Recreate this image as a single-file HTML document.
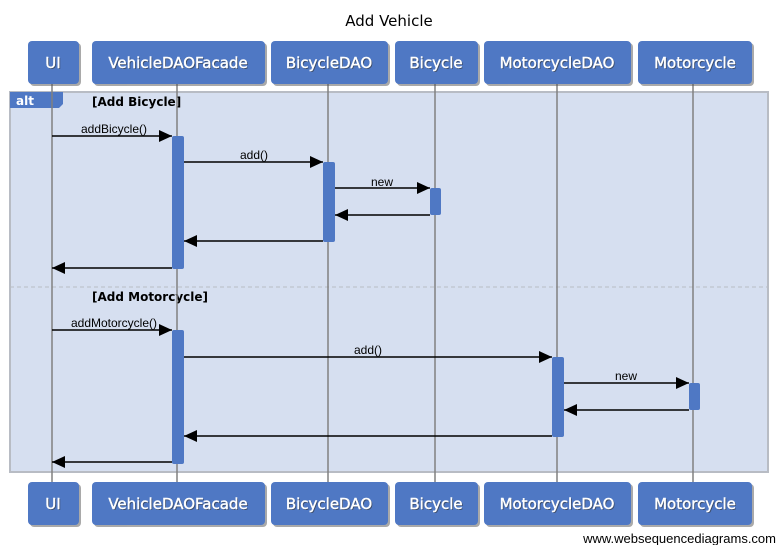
<!DOCTYPE html>
<html><head><meta charset="utf-8"><style>
html,body{margin:0;padding:0;background:#fff;}
svg{display:block;font-family:"DejaVu Sans","Liberation Sans",sans-serif;}
</style></head><body>
<svg width="777" height="545" viewBox="0 0 777 545" xmlns="http://www.w3.org/2000/svg">
<defs>
<marker id="ah" markerWidth="14" markerHeight="12" refX="13" refY="6" orient="auto" markerUnits="userSpaceOnUse">
<path d="M0,0 L13,6 L0,12 Z" fill="#000"/></marker>
</defs>
<text x="389" y="26" font-size="15" text-anchor="middle" fill="#000">Add Vehicle</text>
<rect x="10" y="92" width="758" height="380" fill="#d6dff0" stroke="#b8bcc4" stroke-width="2"/>
<line x1="10" y1="287" x2="768" y2="287" stroke="#b8bcc4" stroke-dasharray="4,3"/>
<path d="M10,92 H63 V104 L59,108 H10 Z" fill="#4f78c4"/>
<text x="16" y="105" font-size="12" font-weight="bold" fill="#fff">alt</text>
<text x="92" y="106" font-size="12" font-weight="bold" fill="#000">[Add Bicycle]</text>
<text x="92" y="301" font-size="12" font-weight="bold" fill="#000">[Add Motorcycle]</text>
<g stroke="#808080" stroke-width="1.5">
<line x1="52" y1="84" x2="52" y2="482"/>
<line x1="177" y1="84" x2="177" y2="482"/>
<line x1="328" y1="84" x2="328" y2="482"/>
<line x1="435" y1="84" x2="435" y2="482"/>
<line x1="557" y1="84" x2="557" y2="482"/>
<line x1="693" y1="84" x2="693" y2="482"/>
</g>
<g fill="#4f78c4">
<rect x="172" y="136" width="12" height="133" rx="2"/>
<rect x="172" y="330" width="12" height="134" rx="2"/>
<rect x="323" y="162" width="12" height="80" rx="2"/>
<rect x="430" y="188" width="11" height="27" rx="2"/>
<rect x="552" y="357" width="12" height="80" rx="2"/>
<rect x="689" y="383" width="11" height="27" rx="2"/>
</g>
<g stroke="#000" stroke-width="1.5" marker-end="url(#ah)">
<line x1="52" y1="136" x2="172" y2="136"/>
<line x1="184" y1="162" x2="323" y2="162"/>
<line x1="335" y1="188" x2="430" y2="188"/>
<line x1="430" y1="215" x2="335" y2="215"/>
<line x1="323" y1="241" x2="184" y2="241"/>
<line x1="172" y1="268" x2="52" y2="268"/>
<line x1="52" y1="330" x2="172" y2="330"/>
<line x1="184" y1="357" x2="552" y2="357"/>
<line x1="564" y1="383" x2="689" y2="383"/>
<line x1="689" y1="410" x2="564" y2="410"/>
<line x1="552" y1="436" x2="184" y2="436"/>
<line x1="172" y1="462" x2="52" y2="462"/>
</g>
<g font-size="12" fill="#000" font-family="Liberation Sans,sans-serif" text-anchor="middle">
<text x="114" y="133">addBicycle()</text>
<text x="254" y="159">add()</text>
<text x="382" y="186">new</text>
<text x="114" y="327">addMotorcycle()</text>
<text x="368" y="354">add()</text>
<text x="626" y="380">new</text>
</g>
<g fill="#555" opacity="0.5">
<rect x="30" y="43" width="51" height="43" rx="4"/>
<rect x="94" y="43" width="173" height="43" rx="4"/>
<rect x="273" y="43" width="117" height="43" rx="4"/>
<rect x="397" y="43" width="83" height="43" rx="4"/>
<rect x="486" y="43" width="147" height="43" rx="4"/>
<rect x="640" y="43" width="114" height="43" rx="4"/>
<rect x="30" y="484" width="51" height="43" rx="4"/>
<rect x="94" y="484" width="173" height="43" rx="4"/>
<rect x="273" y="484" width="117" height="43" rx="4"/>
<rect x="397" y="484" width="83" height="43" rx="4"/>
<rect x="486" y="484" width="147" height="43" rx="4"/>
<rect x="640" y="484" width="114" height="43" rx="4"/>
</g>
<g fill="#4f78c4">
<rect x="28" y="41" width="51" height="43" rx="4"/>
<rect x="92" y="41" width="173" height="43" rx="4"/>
<rect x="271" y="41" width="117" height="43" rx="4"/>
<rect x="395" y="41" width="83" height="43" rx="4"/>
<rect x="484" y="41" width="147" height="43" rx="4"/>
<rect x="638" y="41" width="114" height="43" rx="4"/>
<rect x="28" y="482" width="51" height="43" rx="4"/>
<rect x="92" y="482" width="173" height="43" rx="4"/>
<rect x="271" y="482" width="117" height="43" rx="4"/>
<rect x="395" y="482" width="83" height="43" rx="4"/>
<rect x="484" y="482" width="147" height="43" rx="4"/>
<rect x="638" y="482" width="114" height="43" rx="4"/>
</g>
<g font-size="15" text-anchor="middle" stroke="#fff" stroke-width="0.4">
<g fill="#333" stroke="none" opacity="0.6" transform="translate(1,1)">
<text x="53" y="68">UI</text>
<text x="178" y="68">VehicleDAOFacade</text>
<text x="329" y="68">BicycleDAO</text>
<text x="436" y="68">Bicycle</text>
<text x="557" y="68">MotorcycleDAO</text>
<text x="695" y="68">Motorcycle</text>
<text x="53" y="509">UI</text>
<text x="178" y="509">VehicleDAOFacade</text>
<text x="329" y="509">BicycleDAO</text>
<text x="436" y="509">Bicycle</text>
<text x="557" y="509">MotorcycleDAO</text>
<text x="695" y="509">Motorcycle</text>
</g>
<g fill="#fff">
<text x="53" y="68">UI</text>
<text x="178" y="68">VehicleDAOFacade</text>
<text x="329" y="68">BicycleDAO</text>
<text x="436" y="68">Bicycle</text>
<text x="557" y="68">MotorcycleDAO</text>
<text x="695" y="68">Motorcycle</text>
<text x="53" y="509">UI</text>
<text x="178" y="509">VehicleDAOFacade</text>
<text x="329" y="509">BicycleDAO</text>
<text x="436" y="509">Bicycle</text>
<text x="557" y="509">MotorcycleDAO</text>
<text x="695" y="509">Motorcycle</text>
</g>
</g>
<text x="776" y="543" font-size="13" text-anchor="end" font-family="Liberation Sans,sans-serif" fill="#000">www.websequencediagrams.com</text>
</svg>
</body></html>
